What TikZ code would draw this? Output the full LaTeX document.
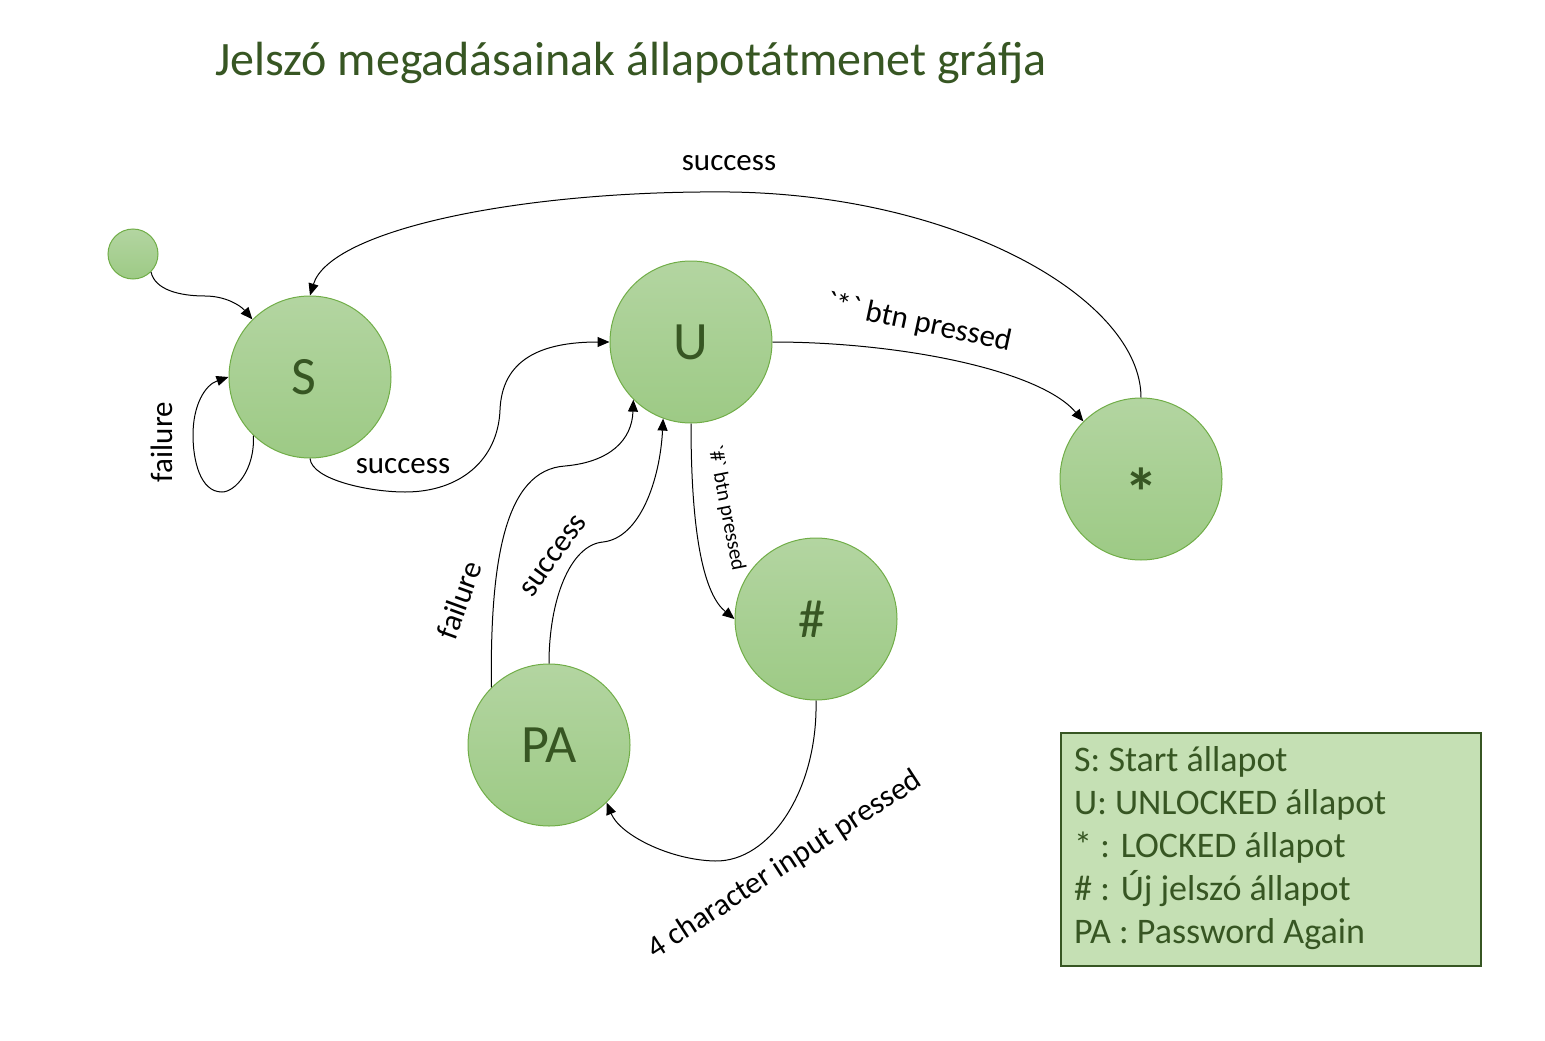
\documentclass[tikz,border=0pt]{standalone}
\usepackage{fontspec}
\setmainfont{Carlito}
\newfontfamily\plainfont{Carlito}[Ligatures=ResetAll]
\usetikzlibrary{arrows.meta}
\definecolor{dgreen}{HTML}{375623}
\definecolor{cborder}{HTML}{70AD47}
\definecolor{ctop}{HTML}{B3D5A1}
\definecolor{cbot}{HTML}{9DCA85}
\definecolor{legfill}{HTML}{C5E0B4}
\begin{document}
\begin{tikzpicture}[x=1pt,y=-1pt,
  state/.style={circle, draw=cborder, line width=1pt, top color=ctop, bottom color=cbot,
    minimum size=162pt, inner sep=0pt, text=dgreen, font=\fontsize{54}{60}\selectfont},
  edge/.style={draw=black, line width=1pt, -{Triangle[length=12pt,width=10pt]}},
  lbl/.style={font=\fontsize{31}{37}\selectfont, inner sep=0pt},
]
\useasboundingbox (0,0) rectangle (1545,1041);

% title
\node[anchor=base west, text=dgreen, font=\fontsize{48}{58}\selectfont, inner sep=0pt] (title) at (215,76) {Jelszó megadásainak állapotátmenet gráfja};

% states
\node[state, minimum size=50pt] (init) at (133,254) {};
\node[state] (S) at (310,377) {\hspace*{-12pt}S};
\node[state] (U) at (691,342) {U};
\node[state] (L) at (1141,479) {\raisebox{-37pt}[0pt][0pt]{\fontsize{68}{70}\selectfont\textbf{*}}};
\node[state] (N) at (816,619) {\hspace*{-8pt}\#};
\node[state] (PA) at (549,745) {PA};

% edges
\draw[edge] (init.-45) .. controls (155,290) and (180,296) .. (205,296) .. controls (225,296) and (240,305) .. (S.135);
\draw[edge] (S.-134) .. controls (255,470) and (235,492) .. (222,492) .. controls (200,492) and (193,460) .. (193,435) .. controls (193,405) and (205,385) .. (S.180);
\draw[edge] (S.-90) .. controls (312,480) and (370,492) .. (405,492) .. controls (460,492) and (498,460) .. (500,410) .. controls (502,360) and (540,342) .. (U.180);
\draw[edge] (U.0) .. controls (900,342) and (1040,370) .. (L.135);
\draw[edge] (L.90) .. controls (1141,300) and (960,195) .. (730,192) .. controls (520,190) and (330,230) .. (S.90);
\draw[edge] (U.-90) .. controls (691,540) and (705,595) .. (N.180);
\draw[edge] (N.-90) .. controls (818,790) and (770,862) .. (715,861) .. controls (670,860) and (620,835) .. (PA.-45);
\draw[edge] (PA.135) .. controls (490,560) and (505,470) .. (565,466) .. controls (610,462) and (632,440) .. (U.-135);
\draw[edge] (PA.90) .. controls (549,600) and (570,545) .. (603,542) .. controls (640,538) and (660,480) .. (U.-110);

% labels
\node[lbl] (l1) at (729,163) {success};
\node[lbl, rotate=90] (l2) at (162,442) {failure};
\node[lbl] (l3) at (403,466) {success};
\node[lbl, rotate=70] (l4) at (459,600) {failure};
\node[lbl, rotate=54] (l5) at (554,556) {success};
\node[lbl, rotate=-79, font=\plainfont\fontsize{21}{25}\selectfont] (l6) at (726,508) {`\#` btn pressed};
\node[lbl, rotate=-12, font=\plainfont\fontsize{31}{37}\selectfont] (l7) at (919,323) {`*` btn pressed};
\node[lbl, rotate=33] (l8) at (785,865) {4 character input pressed};

% legend
\node[draw=dgreen, line width=2pt, fill=legfill, minimum width=420pt, minimum height=233pt, anchor=north west, inner sep=0pt] (leg) at (1060,732) {};
\node[anchor=west, text=dgreen, font=\fontsize{36}{43}\selectfont, align=left, inner sep=0pt] (legtxt) at (1074,848) {S: Start állapot\\U: UNLOCKED állapot\\* : LOCKED állapot\\\# : Új jelszó állapot\\PA : Password Again};
\end{tikzpicture}
\end{document}
